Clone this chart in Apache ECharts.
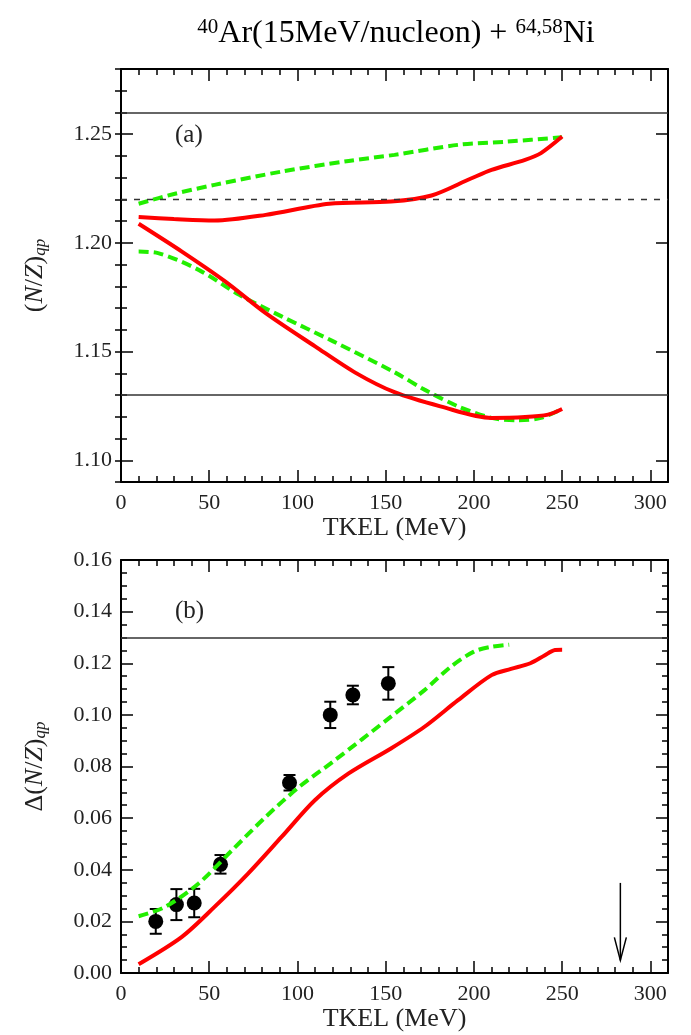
<!DOCTYPE html>
<html>
<head>
<meta charset="utf-8">
<script src="https://cdn.jsdelivr.net/npm/echarts@6/dist/echarts.min.js"></script>
<style>
  html, body { margin: 0; padding: 0; background: #fff; }
  #chart { width: 691px; height: 1035px; }
</style>
</head>
<body>
<div id="chart"></div>
<script>
// ---- data ----
// panel (a): (N/Z)qp vs TKEL
const redUpX   = [10, 30, 53, 82, 118, 153, 176, 198, 210, 229, 238, 250]
const redUpY   = [1.2119, 1.2110, 1.2103, 1.2129, 1.2180, 1.2190, 1.2218, 1.2295, 1.2336, 1.2382, 1.2413, 1.2489]
const greenUpX = [10, 30, 53, 91, 129, 155, 191, 219, 250]
const greenUpY = [1.2180, 1.2225, 1.2267, 1.2328, 1.2377, 1.2405, 1.2451, 1.2466, 1.2486]
const redLoX   = [10, 34.5, 59, 82, 110, 133, 155, 181, 210, 229, 242, 250]
const redLoY   = [1.2088, 1.1960, 1.1823, 1.1677, 1.1524, 1.1402, 1.1313, 1.1248, 1.1195, 1.1199, 1.1210, 1.1236]
const greenLoX = [10, 21, 44, 67, 91, 120, 155, 172, 191, 210, 225, 238, 250]
const greenLoY = [1.1960, 1.1953, 1.1876, 1.1761, 1.1662, 1.1548, 1.1405, 1.1325, 1.1248, 1.1195, 1.1184, 1.1195, 1.1236]
const solidRefA = [1.2609, 1.1304]   // composite-system N/Z
const dashedRefA = 1.2222            // projectile N/Z

// panel (b): Δ(N/Z)qp vs TKEL
const redBX   = [10, 34.5, 53, 72, 91, 110, 129, 153, 172, 191, 210, 221, 232, 240, 246, 250]
const redBY   = [0.0034, 0.0140, 0.0256, 0.0385, 0.0527, 0.0670, 0.0773, 0.0870, 0.0954, 0.1057, 0.1154, 0.1178, 0.1200, 0.1230, 0.1251, 0.1252]
const greenBX = [10, 25, 44, 63, 82, 101, 120, 153, 172, 187, 200, 210, 220]
const greenBY = [0.0220, 0.0256, 0.0347, 0.0476, 0.0605, 0.0721, 0.0818, 0.0993, 0.1096, 0.1187, 0.1245, 0.1264, 0.1272]
const expX   = [19.7, 31.4, 41.5, 56.4, 95.5, 118.6, 131.4, 151.5]
const expY   = [0.0200, 0.0265, 0.0271, 0.0421, 0.0737, 0.1000, 0.1077, 0.1122]
const expErr = [0.0048, 0.0060, 0.0055, 0.0036, 0.0030, 0.0051, 0.0036, 0.0063]
const solidRefB = 0.1305
const arrowB = [283, 0.0349, 0.0049]   // x, from, to

// ticks
const yLabelsA = [1.10, 1.15, 1.20, 1.25]
const yMinorA = []
for (let i = 0; i <= 19; i++) yMinorA.push(Math.round((1.09 + i * 0.01) * 100) / 100)

const pairs = (xs, ys) => xs.map((x, i) => [x, ys[i]])

const FONT = 'Liberation Serif'
const RED = '#ff0000'
const GREEN = '#22ee00'

const chart = echarts.init(document.getElementById('chart'))

const xAxisBase = (gridIndex, pos, labelled) => ({
  gridIndex, type: 'value', position: pos, min: 0, max: 310, interval: 50,
  axisLine: { show: true, onZero: false, lineStyle: { color: '#000', width: 2 } },
  axisTick: { show: true, inside: true, length: 12, lineStyle: { color: '#000', width: 1.5 } },
  minorTick: { show: true, splitNumber: 5, length: 6, lineStyle: { color: '#000', width: 1.5 } },
  splitLine: { show: false },
  axisLabel: { show: labelled, margin: 10, fontFamily: FONT, fontSize: 22, color: '#222' },
  name: labelled ? 'TKEL (MeV)' : '', nameLocation: 'middle', nameGap: 32,
  nameTextStyle: { fontFamily: FONT, fontSize: 26, color: '#222' }
})

const yNameRich = {
  i: { fontFamily: FONT, fontStyle: 'italic', fontSize: 26, color: '#222' },
  n: { fontFamily: FONT, fontSize: 26, color: '#222' },
  sub: { fontFamily: FONT, fontStyle: 'italic', fontSize: 17, color: '#222', verticalAlign: 'bottom', padding: [10, 0, 0, 0] }
}

const option = {
  animation: false,
  backgroundColor: '#fff',
  grid: [
    { left: 121, right: 23, top: 69, height: 413 },
    { left: 121, right: 23, top: 560, height: 413 }
  ],
  graphic: [
    {
      type: 'text', x: 396, y: 34,
      style: {
        text: '{s|40}{m|Ar(15MeV/nucleon) + }{s|64,58}{m|Ni}',
        align: 'center', verticalAlign: 'middle',
        rich: {
          m: { fontFamily: FONT, fontSize: 32, color: '#222' },
          s: { fontFamily: FONT, fontSize: 21, color: '#222', verticalAlign: 'top', padding: [0, 0, 13, 0] }
        }
      }
    },
    { type: 'text', x: 175, y: 123, style: { text: '(a)', fontFamily: FONT, fontSize: 25, fill: '#222' } },
    { type: 'text', x: 175, y: 599, style: { text: '(b)', fontFamily: FONT, fontSize: 25, fill: '#222' } }
  ],
  xAxis: [
    xAxisBase(0, 'bottom', true),
    xAxisBase(0, 'top', false),
    xAxisBase(1, 'bottom', true),
    xAxisBase(1, 'top', false)
  ],
  yAxis: [
    { // (a) left, majors + labels
      gridIndex: 0, type: 'value', position: 'left', min: 1.09, max: 1.28,
      axisLine: { show: true, onZero: false, lineStyle: { color: '#000', width: 2 } },
      axisTick: { show: true, inside: true, length: 12, customValues: yLabelsA, lineStyle: { color: '#000', width: 1.5 } },
      axisLabel: { show: true, customValues: yLabelsA, margin: 9, fontFamily: FONT, fontSize: 22, color: '#222', formatter: v => v.toFixed(2) },
      splitLine: { show: false },
      name: '{n|(}{i|N}{n|/}{i|Z}{n|)}{sub|qp}', nameLocation: 'middle', nameRotate: 90, nameGap: 72,
      nameTextStyle: { rich: yNameRich }
    },
    { // (a) left minors
      gridIndex: 0, type: 'value', position: 'left', min: 1.09, max: 1.28,
      axisLine: { show: false },
      axisTick: { show: true, inside: true, length: 6, customValues: yMinorA, lineStyle: { color: '#000', width: 1.5 } },
      axisLabel: { show: false }, splitLine: { show: false }
    },
    { // (a) right majors
      gridIndex: 0, type: 'value', position: 'right', min: 1.09, max: 1.28,
      axisLine: { show: true, onZero: false, lineStyle: { color: '#000', width: 2 } },
      axisTick: { show: true, inside: true, length: 12, customValues: yLabelsA, lineStyle: { color: '#000', width: 1.5 } },
      axisLabel: { show: false }, splitLine: { show: false }
    },
    { // (a) right minors
      gridIndex: 0, type: 'value', position: 'right', min: 1.09, max: 1.28,
      axisLine: { show: false },
      axisTick: { show: true, inside: true, length: 6, customValues: yMinorA, lineStyle: { color: '#000', width: 1.5 } },
      axisLabel: { show: false }, splitLine: { show: false }
    },
    { // (b) left
      gridIndex: 1, type: 'value', position: 'left', min: 0, max: 0.16, interval: 0.02,
      axisLine: { show: true, onZero: false, lineStyle: { color: '#000', width: 2 } },
      axisTick: { show: true, inside: true, length: 12, lineStyle: { color: '#000', width: 1.5 } },
      minorTick: { show: true, splitNumber: 4, length: 6, lineStyle: { color: '#000', width: 1.5 } },
      axisLabel: { show: true, margin: 9, fontFamily: FONT, fontSize: 22, color: '#222', formatter: v => v.toFixed(2) },
      splitLine: { show: false },
      name: '{n|Δ(}{i|N}{n|/}{i|Z}{n|)}{sub|qp}', nameLocation: 'middle', nameRotate: 90, nameGap: 72,
      nameTextStyle: { rich: yNameRich }
    },
    { // (b) right
      gridIndex: 1, type: 'value', position: 'right', min: 0, max: 0.16, interval: 0.02,
      axisLine: { show: true, onZero: false, lineStyle: { color: '#000', width: 2 } },
      axisTick: { show: true, inside: true, length: 12, lineStyle: { color: '#000', width: 1.5 } },
      minorTick: { show: true, splitNumber: 4, length: 6, lineStyle: { color: '#000', width: 1.5 } },
      axisLabel: { show: false }, splitLine: { show: false }
    }
  ],
  series: [
    // ---- panel (a) ----
    {
      type: 'line', xAxisIndex: 0, yAxisIndex: 0, data: [], silent: true,
      markLine: {
        silent: true, symbol: 'none', label: { show: false },
        data: [
          { yAxis: solidRefA[0], lineStyle: { color: '#333', width: 1.5, type: 'solid' } },
          { yAxis: solidRefA[1], lineStyle: { color: '#333', width: 1.5, type: 'solid' } },
          { yAxis: dashedRefA, lineStyle: { color: '#333', width: 1.3, type: [6, 7] } }
        ]
      }
    },
    { type: 'line', xAxisIndex: 0, yAxisIndex: 0, data: pairs(greenUpX, greenUpY), smooth: 0.3, showSymbol: false,
      lineStyle: { color: GREEN, width: 4, type: [10, 5] } },
    { type: 'line', xAxisIndex: 0, yAxisIndex: 0, data: pairs(greenLoX, greenLoY), smooth: 0.3, showSymbol: false,
      lineStyle: { color: GREEN, width: 4, type: [10, 5] } },
    { type: 'line', xAxisIndex: 0, yAxisIndex: 0, data: pairs(redUpX, redUpY), smooth: 0.3, showSymbol: false,
      lineStyle: { color: RED, width: 4 } },
    { type: 'line', xAxisIndex: 0, yAxisIndex: 0, data: pairs(redLoX, redLoY), smooth: 0.3, showSymbol: false,
      lineStyle: { color: RED, width: 4 } },
    // ---- panel (b) ----
    {
      type: 'line', xAxisIndex: 2, yAxisIndex: 4, data: [], silent: true,
      markLine: {
        silent: true, symbol: 'none', label: { show: false },
        data: [{ yAxis: solidRefB, lineStyle: { color: '#333', width: 1.5, type: 'solid' } }]
      }
    },
    { type: 'line', xAxisIndex: 2, yAxisIndex: 4, data: pairs(greenBX, greenBY), smooth: 0.3, showSymbol: false,
      lineStyle: { color: GREEN, width: 4, type: [10, 5] } },
    { type: 'line', xAxisIndex: 2, yAxisIndex: 4, data: pairs(redBX, redBY), smooth: 0.3, showSymbol: false,
      lineStyle: { color: RED, width: 4 } },
    { // error bars
      type: 'custom', xAxisIndex: 2, yAxisIndex: 4,
      data: expX.map((x, i) => [x, expY[i], expErr[i]]),
      renderItem: (params, api) => {
        const x = api.value(0), y = api.value(1), e = api.value(2)
        const t = api.coord([x, y + e]), b = api.coord([x, y - e])
        const st = { stroke: '#000', lineWidth: 2 }
        return { type: 'group', children: [
          { type: 'line', shape: { x1: t[0], y1: t[1], x2: b[0], y2: b[1] }, style: st },
          { type: 'line', shape: { x1: t[0] - 6, y1: t[1], x2: t[0] + 6, y2: t[1] }, style: st },
          { type: 'line', shape: { x1: b[0] - 6, y1: b[1], x2: b[0] + 6, y2: b[1] }, style: st }
        ] }
      }
    },
    { type: 'scatter', xAxisIndex: 2, yAxisIndex: 4, data: pairs(expX, expY), symbol: 'circle', symbolSize: 15,
      itemStyle: { color: '#000', opacity: 1 } },
    { // arrow
      type: 'custom', xAxisIndex: 2, yAxisIndex: 4, data: [arrowB],
      renderItem: (params, api) => {
        const a = api.coord([api.value(0), api.value(1)]), b = api.coord([api.value(0), api.value(2)])
        const st = { stroke: '#000', lineWidth: 1.5, fill: null }
        return { type: 'group', children: [
          { type: 'line', shape: { x1: a[0], y1: a[1], x2: b[0], y2: b[1] }, style: st },
          { type: 'polyline', shape: { points: [[b[0] - 6, b[1] - 23], [b[0], b[1]], [b[0] + 6, b[1] - 23]] }, style: st }
        ] }
      }
    }
  ]
}

chart.setOption(option)
</script>
</body>
</html>
